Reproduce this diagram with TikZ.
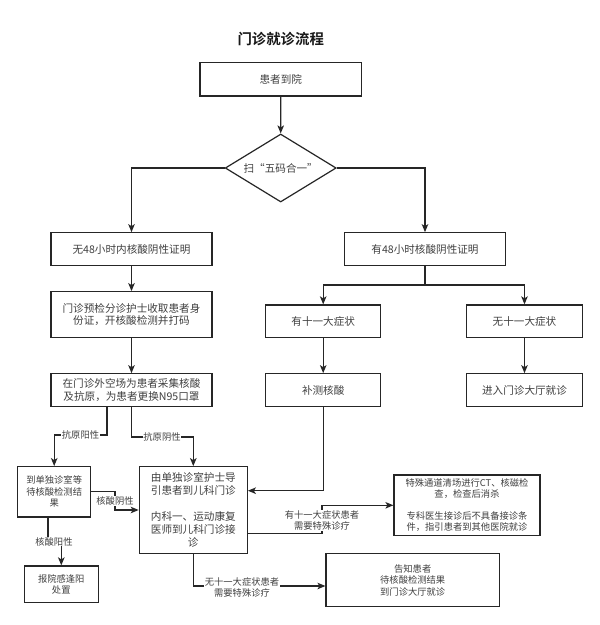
\documentclass[tikz,border=0pt]{standalone}
\usepackage{fontspec}
\setmainfont{Noto Sans CJK SC}
\newfontfamily\cjkbold{Noto Sans CJK SC Bold}
\usetikzlibrary{arrows.meta,shapes.geometric}
\begin{document}
\begin{tikzpicture}[x=1pt,y=-1pt,
  line width=1.2pt,
  box/.style={draw=black!85,rectangle,align=center,inner sep=0pt,text=black!75,
    font=\fontsize{10.6}{12.5}\selectfont},
  sbox/.style={box,font=\fontsize{9.3}{11.5}\selectfont},
  dia/.style={draw=black!85,diamond,aspect=1.63,inner sep=0pt,minimum width=111pt,minimum height=68pt,
    text=black!75,font=\fontsize{10.6}{12.5}\selectfont},
  arr/.style={draw=black!85,-{Stealth[length=8pt,width=6.5pt,inset=2pt]}},
  ln/.style={draw=black!85},
  elab/.style={fill=white,inner sep=0.5pt,align=center,text=black!75,font=\fontsize{9.3}{11}\selectfont}]
\useasboundingbox[fill=white] (0,0) rectangle (600,625);

\node[font=\cjkbold\fontsize{14.4}{16}\selectfont,text=black!90] (title) at (280.7,39) {门诊就诊流程};

\node[box,minimum width=161.7pt,minimum height=33.7pt] (arrive) at (280.8,79.2) {患者到院};
\node[dia] (scan) at (280.7,168) {扫“五码合一”};

\node[box,minimum width=161pt,minimum height=32.5pt] (no48) at (131.5,249) {无48小时内核酸阴性证明};
\node[box,minimum width=161.5pt,minimum height=32.5pt] (yes48) at (425,249) {有48小时核酸阴性证明};

\node[box,minimum width=161pt,minimum height=46pt] (pre) at (131.5,314.7) {门诊预检分诊护士收取患者身\\份证，开核酸检测并打码};
\node[box,minimum width=161pt,minimum height=32.5pt] (collect) at (131.5,390) {在门诊外空场为患者采集核酸\\及抗原，为患者更换N95口罩};

\node[box,minimum width=115pt,minimum height=32.7pt] (sym) at (323.2,321.3) {有十一大症状};
\node[box,minimum width=115.6pt,minimum height=32.7pt] (nosym) at (524.5,321.3) {无十一大症状};
\node[box,minimum width=115pt,minimum height=32.5pt] (retest) at (323.2,390) {补测核酸};
\node[box,minimum width=115.6pt,minimum height=32.5pt] (hall) at (524.5,390) {进入门诊大厅就诊};

\node[sbox,minimum width=73pt,minimum height=50.3pt] (wait) at (54.2,491.8) {到单独诊室等\\待核酸检测结\\果};
\node[box,minimum width=108pt,minimum height=86.6pt,font=\fontsize{10.6}{13}\selectfont] (guide) at (193.3,510) {由单独诊室护士导\\引患者到儿科门诊\\[13pt]内科一、运动康复\\医师到儿科门诊接\\诊};
\node[sbox,minimum width=74pt,minimum height=36.7pt] (report) at (61.3,584.3) {报院感逢阳\\处置};
\node[sbox,minimum width=146pt,minimum height=60.7pt,font=\fontsize{9.3}{11}\selectfont] (special) at (467,505.3) {特殊通道清场进行CT、核磁检\\查，检查后消杀\\[11pt]专科医生接诊后不具备接诊条\\件，指引患者到其他医院就诊};
\node[sbox,minimum width=173.3pt,minimum height=53.4pt] (tell) at (412.7,580) {告知患者\\待核酸检测结果\\到门诊大厅就诊};

% connectors
\draw[arr] (arrive.south) -- (scan.north);
\draw[arr] (scan.west) -| (no48.north);
\draw[arr] (scan.east) -| (yes48.north);
\draw[arr] (no48.south) -- (pre.north);
\draw[arr] (pre.south) -- (collect.north);

\coordinate (split) at (425,285);
\draw[ln] (yes48.south) -- (split);
\draw[arr] (split) -| (sym.north);
\draw[arr] (split) -| (nosym.north);
\draw[arr] (sym.south) -- (retest.north);
\draw[arr] (nosym.south) -- (hall.north);
\draw[arr] (retest.south) |- (guide.east |- 0,490.7);

\coordinate (cl) at (107,406);
\coordinate (cr) at (131.5,406);
\draw[arr] (cl) -- (107,435) -| (wait.north);
\node[elab] (lab1) at (80.5,435) {抗原阳性};
\draw[arr] (cr) -- (131.5,437) -| (guide.north);
\node[elab] (lab2) at (162,437) {抗原阴性};

\draw[arr] (wait.east) -- (115,491.8) -- (115,510) -- (guide.west);
\node[elab] (lab3) at (115,500.7) {核酸阴性};

\coordinate (wb) at (48,517);
\draw[arr] (wb) -- (48,541.5) -- (61.3,541.5) -- (report.north);
\node[elab] (lab4) at (54,541.5) {核酸阳性};

\draw[arr] (guide.east |- 0,533.3) -- (322,533.3) |- (special.west);
\node[elab] (lab5) at (322,520.2) {有十一大症状患者\\需要特殊诊疗};

\draw[arr] (guide.south) |- (tell.west |- 0,586);
\node[elab] (lab6) at (242,587) {无十一大症状患者\\需要特殊诊疗};
\end{tikzpicture}
\end{document}
